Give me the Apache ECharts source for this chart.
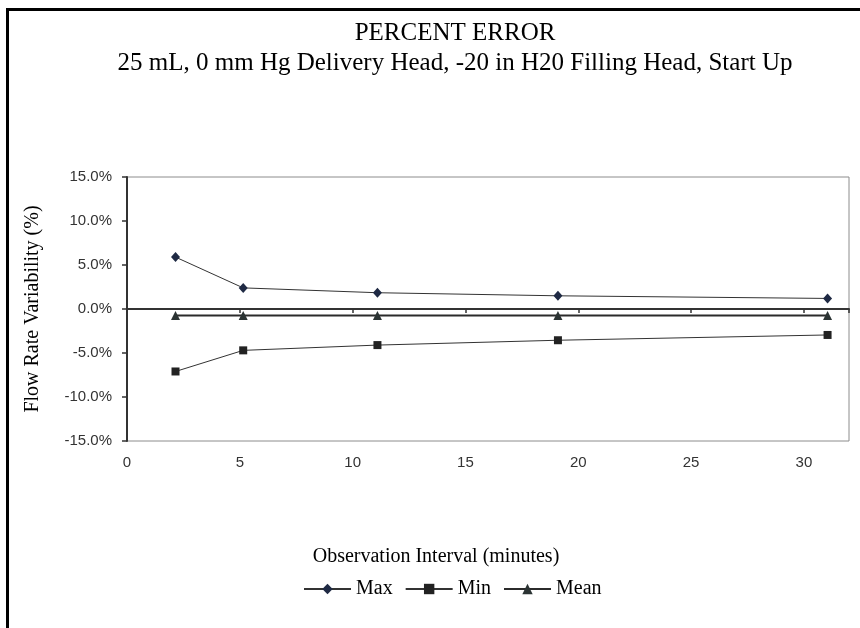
<!DOCTYPE html>
<html>
<head>
<meta charset="utf-8">
<script src="https://cdn.jsdelivr.net/npm/echarts@6/dist/echarts.min.js"></script>
<style>
html,body{margin:0;padding:0;background:#fff;}
#chart{width:860px;height:628px;}
</style>
</head>
<body>
<div id="chart"></div>
<script>
// Observation interval (minutes)
const intervals = [2.15, 5.15, 11.1, 19.1, 31.05];
// Percent error values (%)
const maxValues = [5.9, 2.4, 1.85, 1.5, 1.2];
const minValues = [-7.1, -4.7, -4.1, -3.55, -2.95];
const meanValues = [-0.75, -0.75, -0.75, -0.75, -0.75];
const seriesNames = ['Max', 'Min', 'Mean'];
const titleLine1 = 'PERCENT ERROR';
const titleLine2 = '25 mL, 0 mm Hg Delivery Head, -20 in H20 Filling Head, Start Up';
const xTitle = 'Observation Interval (minutes)';
const yTitle = 'Flow Rate Variability (%)';

const pair = (vals) => intervals.map((x, i) => [x, vals[i]]);
const serif = 'Liberation Serif';
const sans = 'Liberation Sans';

const chart = echarts.init(document.getElementById('chart'), null, {renderer: 'canvas'});
chart.setOption({
  animation: false,
  backgroundColor: '#fff',
  graphic: [
    {
      type: 'rect', silent: true,
      shape: {x: 7.5, y: 9.5, width: 900, height: 700},
      style: {fill: 'none', stroke: '#000', lineWidth: 3}
    },
    {
      type: 'text', silent: true, x: 455, y: 33,
      style: {text: titleLine1, fontFamily: serif, fontSize: 25, fill: '#000', align: 'center', verticalAlign: 'middle'}
    },
    {
      type: 'text', silent: true, x: 455, y: 63,
      style: {text: titleLine2, fontFamily: serif, fontSize: 25, fill: '#000', align: 'center', verticalAlign: 'middle'}
    },
    {
      type: 'text', silent: true, x: 436, y: 557,
      style: {text: xTitle, fontFamily: serif, fontSize: 20, fill: '#000', align: 'center', verticalAlign: 'middle'}
    }
  ],
  legend: {
    left: 298, top: 574,
    itemWidth: 47, itemHeight: 13, itemGap: 12,
    textStyle: {fontFamily: serif, fontSize: 20, color: '#000'},
    data: seriesNames
  },
  grid: {
    left: 127, top: 177, right: 11, bottom: 187,
    show: true, borderColor: '#8c8c8c', borderWidth: 1, backgroundColor: 'transparent'
  },
  xAxis: [
    {
      type: 'value', min: 0, max: 32, interval: 5, position: 'bottom',
      axisLine: {show: false, onZero: false},
      axisTick: {show: false},
      splitLine: {show: false},
      axisLabel: {show: true, showMaxLabel: false, margin: 14, color: '#333', fontFamily: sans, fontSize: 15}
    },
    {
      type: 'value', min: 0, max: 32, interval: 5, position: 'bottom',
      axisLine: {show: true, onZero: true, onZeroAxisIndex: 0, lineStyle: {color: '#333', width: 2}},
      axisTick: {show: true, inside: false, length: 4, lineStyle: {color: '#333', width: 1.5}},
      splitLine: {show: false},
      axisLabel: {show: false}
    }
  ],
  yAxis: {
    type: 'value', min: -15, max: 15, interval: 5,
    name: yTitle, nameLocation: 'middle', nameGap: 84, nameRotate: 90,
    nameTextStyle: {fontFamily: serif, fontSize: 20, color: '#000'},
    axisLine: {show: true, onZero: false, lineStyle: {color: '#333', width: 2}},
    axisTick: {show: true, inside: false, length: 5, lineStyle: {color: '#333', width: 1.5}},
    splitLine: {show: false},
    axisLabel: {margin: 15, color: '#333', fontFamily: sans, fontSize: 15,
      formatter: (v) => v.toFixed(1) + '%'}
  },
  series: [
    {
      name: seriesNames[0], type: 'line', xAxisIndex: 0, data: pair(maxValues),
      symbol: 'diamond', symbolSize: [9, 10],
      itemStyle: {color: '#1f2a44'},
      lineStyle: {color: '#333', width: 1}
    },
    {
      name: seriesNames[1], type: 'line', xAxisIndex: 0, data: pair(minValues),
      symbol: 'rect', symbolSize: 8,
      itemStyle: {color: '#222'},
      lineStyle: {color: '#333', width: 1}
    },
    {
      name: seriesNames[2], type: 'line', xAxisIndex: 0, data: pair(meanValues),
      symbol: 'triangle', symbolSize: 9,
      itemStyle: {color: '#2b3333'},
      lineStyle: {color: '#2b2b2b', width: 2}
    }
  ]
});
</script>
</body>
</html>
